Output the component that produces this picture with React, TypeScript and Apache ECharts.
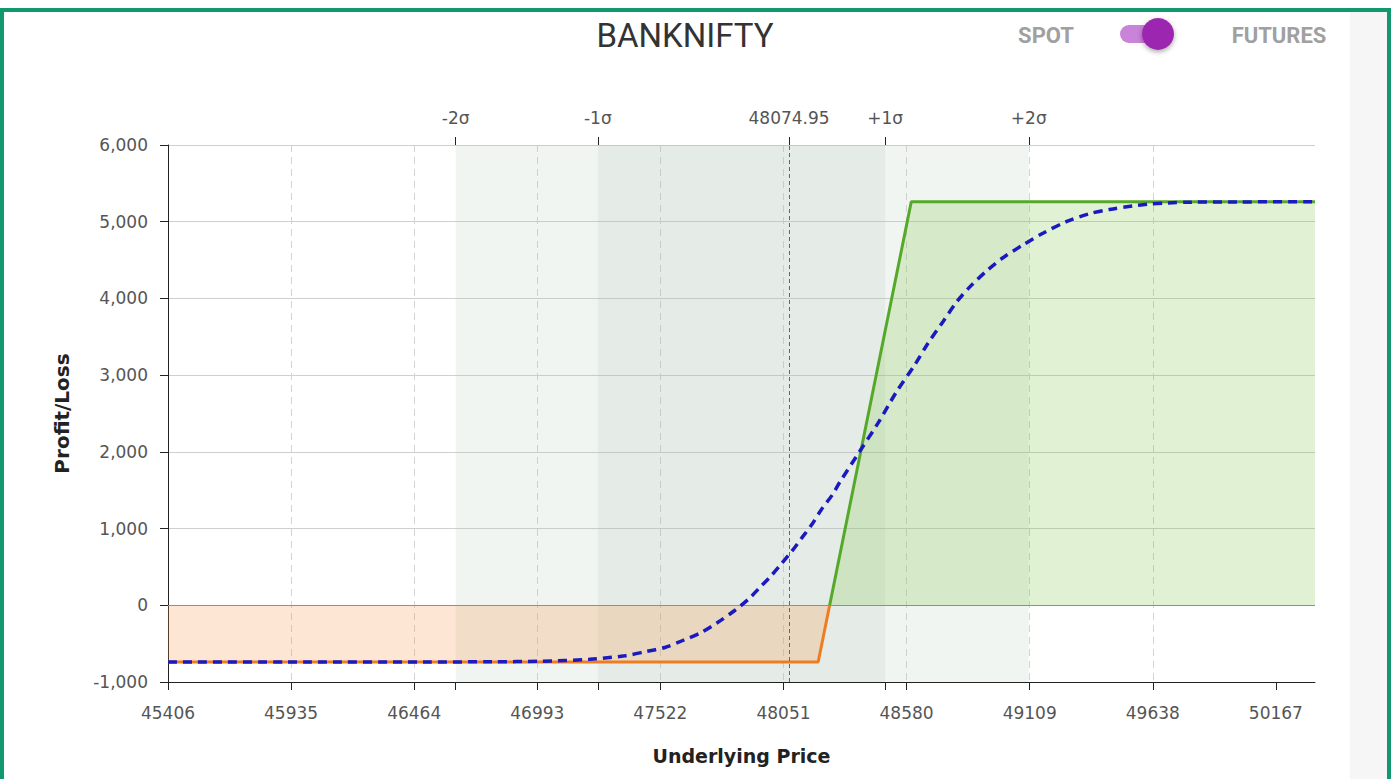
import React, { useEffect, useRef } from "react";
import * as echarts from "echarts";

// ---------- data ----------
const X_MIN = 45406;
const X_MAX = 50335;
const X_STEP = 529;
const xTickLabels = [45406, 45935, 46464, 46993, 47522, 48051, 48580, 49109, 49638, 50167];
const yTicks = [-1000, 0, 1000, 2000, 3000, 4000, 5000, 6000];

const sigmaLabels = ["-2σ", "-1σ", "48074.95", "+1σ", "+2σ"];
const sigmaValues = [46642, 47253, 48074.95, 48488, 49105];

// expiry payoff
const payoffX = [45406, 48200, 48600, 50335];
const payoffY = [-740, -740, 5260, 5260];

// current (T+0) P&L curve
const curveX = [
  45406, 46000, 46500, 46800, 47004, 47218, 47369, 47462, 47541, 47618, 47698, 47768,
  47841, 47901, 47949, 47995, 48042, 48086, 48129, 48172, 48214, 48261, 48292, 48378,
  48457, 48536, 48615, 48672, 48737, 48794, 48858, 48930, 48994, 49080, 49166, 49266,
  49366, 49452, 49552, 49616, 49700, 49800, 50000, 50335,
];
const curveY = [
  -740, -740, -739, -736, -730, -705, -658, -602, -550, -459, -354, -224,
  -68, 81, 232, 375, 541, 701, 876, 1049, 1250, 1440, 1600, 2004,
  2374, 2780, 3134, 3416, 3700, 3950, 4170, 4375, 4530, 4697, 4850, 5000,
  5105, 5160, 5205, 5228, 5245, 5255, 5258, 5260,
];

const TITLE = "BANKNIFTY";
const LEFT_TOGGLE = "SPOT";
const RIGHT_TOGGLE = "FUTURES";

const off = (v: number) => v - X_MIN;
const LABEL_FONT = "DejaVu Sans";
const LABEL_SIZE = 17;

export default function App() {
  const ref = useRef<HTMLDivElement>(null);

  useEffect(() => {
    if (!ref.current) return;
    const chart = echarts.init(ref.current, null, { renderer: "svg" });

    // zero crossing of payoff (interpolated from data)
    let zx = payoffX[0];
    for (let i = 0; i < payoffX.length - 1; i++) {
      if (payoffY[i] < 0 && payoffY[i + 1] >= 0) {
        zx = payoffX[i] + ((0 - payoffY[i]) / (payoffY[i + 1] - payoffY[i])) * (payoffX[i + 1] - payoffX[i]);
      }
    }
    const neg: number[][] = [];
    const pos: number[][] = [];
    payoffX.forEach((x, i) => {
      if (x <= zx && payoffY[i] < 0) neg.push([off(x), payoffY[i]]);
      if (x >= zx && payoffY[i] >= 0) pos.push([off(x), payoffY[i]]);
    });
    neg.push([off(zx), 0]);
    pos.unshift([off(zx), 0]);

    const tickOffsets = xTickLabels.map(off);
    const sigmaOffsets = sigmaValues.map(off);
    const sigmaOnly = sigmaValues.filter((_, i) => i !== 2).map(off);

    const option: any = {
      animation: false,
      grid: [
        { left: 168, top: 145, right: 77, bottom: 97 },
        { left: 168, top: 145, right: 77, bottom: 97 },
      ],
      xAxis: [
        {
          gridIndex: 0,
          type: "value",
          position: "bottom",
          min: 0,
          max: X_MAX - X_MIN,
          interval: X_STEP,
          axisLine: { onZero: false, lineStyle: { color: "#222", width: 1 } },
          axisTick: { show: true, length: 8, customValues: tickOffsets, lineStyle: { color: "#222" } },
          axisLabel: {
            customValues: tickOffsets,
            formatter: (v: number) => String(Math.round(v + X_MIN)),
            color: "#555",
            fontSize: LABEL_SIZE,
            fontFamily: LABEL_FONT,
            margin: 22,
          },
          splitLine: {
            show: true,
            showMaxLine: false,
            showMinLine: false,
            lineStyle: { type: [7, 5], color: "#d3d3d3", width: 1 },
          },
          name: "Underlying Price",
          nameLocation: "middle",
          nameGap: 64,
          nameTextStyle: { fontWeight: "bold", fontSize: 19, color: "#222", fontFamily: LABEL_FONT },
        },
        {
          gridIndex: 1,
          type: "value",
          position: "top",
          min: 0,
          max: X_MAX - X_MIN,
          axisLine: { show: false, onZero: false },
          axisTick: { show: true, length: 8, customValues: sigmaOffsets, lineStyle: { color: "#222" } },
          axisLabel: {
            customValues: sigmaOffsets,
            formatter: (v: number) => {
              const i = sigmaOffsets.findIndex((s) => Math.abs(s - v) < 0.01);
              return i >= 0 ? sigmaLabels[i] : "";
            },
            color: "#555",
            fontSize: LABEL_SIZE,
            fontFamily: LABEL_FONT,
            margin: 19,
          },
          splitLine: { show: false },
        },
        {
          gridIndex: 1,
          type: "value",
          position: "bottom",
          min: 0,
          max: X_MAX - X_MIN,
          axisLine: { show: false, onZero: false },
          axisTick: { show: true, length: 8, customValues: sigmaOnly, lineStyle: { color: "#222" } },
          axisLabel: { show: false },
          splitLine: { show: false },
        },
      ],
      yAxis: [
        {
          gridIndex: 0,
          type: "value",
          min: yTicks[0],
          max: yTicks[yTicks.length - 1],
          interval: 1000,
          axisLine: { show: true, onZero: false, lineStyle: { color: "#222", width: 1 } },
          axisTick: { show: true, length: 8, lineStyle: { color: "#222" } },
          axisLabel: {
            formatter: (v: number) => v.toLocaleString("en-US"),
            color: "#555",
            fontSize: LABEL_SIZE,
            fontFamily: LABEL_FONT,
            margin: 20,
          },
          splitLine: { show: true, lineStyle: { color: "#cfcfcf", width: 1 } },
          name: "Profit/Loss",
          nameLocation: "middle",
          nameRotate: 90,
          nameGap: 96,
          nameTextStyle: { fontWeight: "bold", fontSize: 20, color: "#222", fontFamily: LABEL_FONT },
        },
        { gridIndex: 1, type: "value", show: false, min: 0, max: 1 },
      ],
      series: [
        {
          type: "line",
          xAxisIndex: 0,
          yAxisIndex: 0,
          data: [],
          z: 1,
          silent: true,
          markArea: {
            silent: true,
            data: [
              [{ xAxis: off(sigmaValues[0]), itemStyle: { color: "rgba(180,200,180,0.18)" } }, { xAxis: off(sigmaValues[4]) }],
              [{ xAxis: off(sigmaValues[1]), itemStyle: { color: "rgba(160,180,165,0.15)" } }, { xAxis: off(sigmaValues[3]) }],
            ],
          },
          markLine: {
            silent: true,
            symbol: "none",
            label: { show: false },
            data: [
              { yAxis: 0, lineStyle: { type: "solid", color: "#8f8f8f", width: 1 } },
              { xAxis: off(sigmaValues[2]), lineStyle: { type: [4, 3], color: "#666", width: 1 } },
            ],
          },
        },
        {
          type: "line",
          xAxisIndex: 0,
          yAxisIndex: 0,
          data: neg,
          symbol: "none",
          z: 3,
          lineStyle: { color: "#f07c22", width: 3 },
          areaStyle: { color: "rgba(247,150,70,0.34)" },
        },
        {
          type: "line",
          xAxisIndex: 0,
          yAxisIndex: 0,
          data: pos,
          symbol: "none",
          z: 3,
          lineStyle: { color: "#55a82a", width: 3 },
          areaStyle: { color: "rgba(130,200,80,0.35)" },
        },
        {
          type: "line",
          xAxisIndex: 0,
          yAxisIndex: 0,
          data: curveX.map((x, i) => [off(x), curveY[i]]),
          symbol: "none",
          smooth: 0.3,
          z: 5,
          lineStyle: { color: "#1a1abf", width: 3.5, type: [9, 6] },
        },
      ],
      graphic: [
        {
          type: "text",
          x: 685,
          y: 35,
          style: {
            text: TITLE,
            fontFamily: "Roboto",
            fontSize: 33,
            fontWeight: 400,
            fill: "#333",
            textAlign: "center",
            textVerticalAlign: "middle",
          },
        },
        {
          type: "text",
          x: 1046,
          y: 35,
          style: {
            text: LEFT_TOGGLE,
            fontFamily: "Roboto",
            fontSize: 22,
            fontWeight: "bold",
            fill: "#a0a0a0",
            textAlign: "center",
            textVerticalAlign: "middle",
          },
        },
        {
          type: "text",
          x: 1279,
          y: 35,
          style: {
            text: RIGHT_TOGGLE,
            fontFamily: "Roboto",
            fontSize: 22,
            fontWeight: "bold",
            fill: "#a0a0a0",
            textAlign: "center",
            textVerticalAlign: "middle",
          },
        },
        {
          type: "rect",
          shape: { x: 1120, y: 25, width: 50, height: 18, r: 9 },
          style: { fill: "#c983d8" },
        },
        {
          type: "circle",
          shape: { cx: 1158, cy: 34, r: 16 },
          style: {
            fill: "#9c27b0",
            shadowBlur: 5,
            shadowOffsetY: 2,
            shadowColor: "rgba(0,0,0,0.35)",
          },
        },
      ],
    };

    chart.setOption(option);
    return () => chart.dispose();
  }, []);

  return (
    <div
      style={{
        position: "fixed",
        left: 0,
        top: 0,
        width: 1392,
        height: 779,
        background: "#fff",
        overflow: "hidden",
      }}
    >
      <div
        style={{
          position: "absolute",
          left: 0,
          top: 8,
          width: 1391,
          height: 800,
          border: "4px solid #12986f",
          boxSizing: "border-box",
        }}
      />
      <div
        style={{
          position: "absolute",
          left: 1350,
          top: 12,
          width: 37,
          height: 767,
          background: "#f6f6f6",
        }}
      />
      <div ref={ref} style={{ position: "absolute", left: 0, top: 0, width: 1392, height: 779 }} />
    </div>
  );
}
